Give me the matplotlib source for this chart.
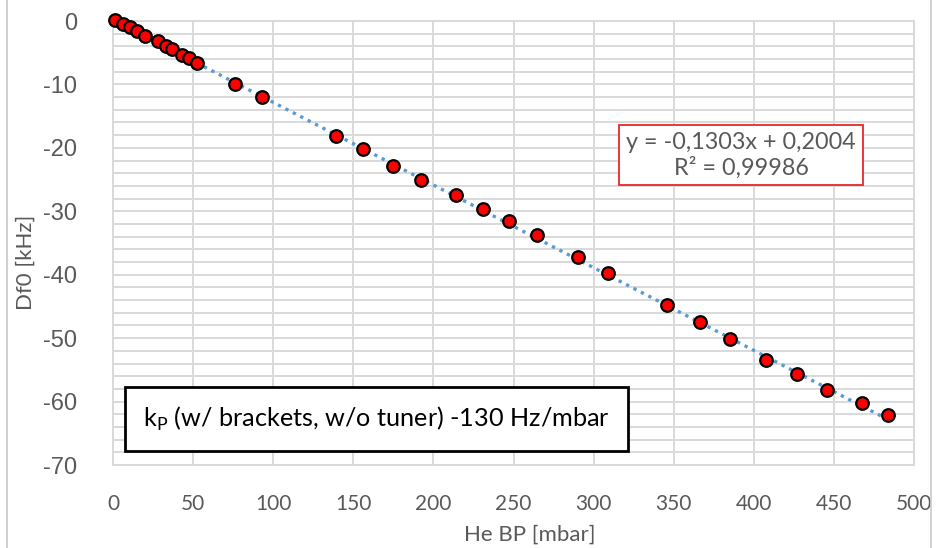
import matplotlib.pyplot as plt
from matplotlib.lines import Line2D
import numpy as np

plt.rcParams['axes.unicode_minus'] = False

# He back pressure [mbar] vs frequency shift Df0 [kHz]
he_bp = [1.3, 6.4, 10.6, 14.8, 20.0, 28.3, 33.1, 36.6, 42.9, 47.6, 52.2,
         76.2, 92.8, 139.2, 156.2, 174.6, 192.0, 214.0, 230.8, 247.2, 264.9,
         290.0, 309.2, 346.0, 366.4, 385.2, 407.6, 426.8, 445.5, 467.3, 483.9]
df0 = [0.2, -0.4, -1.0, -1.5, -2.3, -3.2, -3.9, -4.4, -5.4, -5.9, -6.6,
       -9.9, -12.0, -18.1, -20.2, -22.8, -25.1, -27.4, -29.7, -31.6, -33.8,
       -37.2, -39.8, -44.8, -47.5, -50.1, -53.4, -55.6, -58.1, -60.3, -62.1]

slope, intercept = -0.1303, 0.2004
eq_text = "y = -0,1303x + 0,2004\nR² = 0,99986"
box_text = "k$_\\mathregular{P}$ (w/ brackets, w/o tuner) -130 Hz/mbar"

W, H = 938, 548
fig = plt.figure(figsize=(W / 100, H / 100), dpi=100)
ax = fig.add_axes([113 / W, 1 - 465 / H, (914 - 113) / W, (465 - 21) / H])

grid_c = '#d9d9d9'
ax.set_xlim(0, 500)
ax.set_ylim(-70, 0)
ax.set_xticks(np.arange(0, 501, 50))
ax.set_yticks(np.arange(-70, 1, 10))
ax.set_yticks(np.arange(-70, 1, 2), minor=True)
ax.grid(True, which='both', color=grid_c, lw=1.4)
ax.set_axisbelow(True)
for s in ax.spines.values():
    s.set_color(grid_c)
    s.set_linewidth(1.4)
ax.tick_params(which='both', length=0)
ax.tick_params(axis='y', pad=26, labelsize=17, labelcolor='#595959')
ax.tick_params(axis='x', pad=21, labelsize=15, labelcolor='#595959')
for lab in ax.get_yticklabels():
    lab.set_fontfamily('Liberation Sans')
for lab in ax.get_xticklabels():
    lab.set_fontfamily('Lato')

# trend line
xt = np.array([min(he_bp), max(he_bp)])
ax.plot(xt, slope * xt + intercept, ls=(0, (1, 1.5)), color='#5b9bd5', lw=2.4, zorder=2)
ax.scatter(he_bp, df0, s=82, c='#ff0000', edgecolors='black', linewidths=1.6,
           zorder=3, clip_on=False)

# equation box
ax.text((741 - 113) / (914 - 113), 1 - (155 - 21) / (465 - 21), eq_text,
        transform=ax.transAxes, ha='center', va='center', fontsize=16.8,
        family='Lato', color='#595959', linespacing=1.2,
        bbox=dict(boxstyle='square,pad=0.3', fc='white', ec='#e8262b', lw=1.3))

# label box
ax.text((143 - 113) / (914 - 113), 1 - (419 - 21) / (465 - 21), box_text,
        transform=ax.transAxes, ha='left', va='center', fontsize=18.2,
        family='Lato', color='black',
        bbox=dict(boxstyle='square,pad=0.72', fc='white', ec='black', lw=2))

fig.text(530 / W, 1 - 535 / H, "He BP [mbar]", ha='center', va='center',
         fontsize=16, family='Lato', color='#595959')
fig.text(26 / W, 1 - 262 / H, "Df0 [kHz]", ha='center', va='center', rotation=90,
         fontsize=16, family='Lato', color='#595959')

# outer chart frame lines
fig.add_artist(Line2D([7 / W, 7 / W], [0, 1], color='#c8c8c8', lw=1.2))
fig.add_artist(Line2D([931 / W, 931 / W], [0, 1], color='#c8c8c8', lw=1.2))

fig.savefig('out.png', dpi=100, facecolor='white')
